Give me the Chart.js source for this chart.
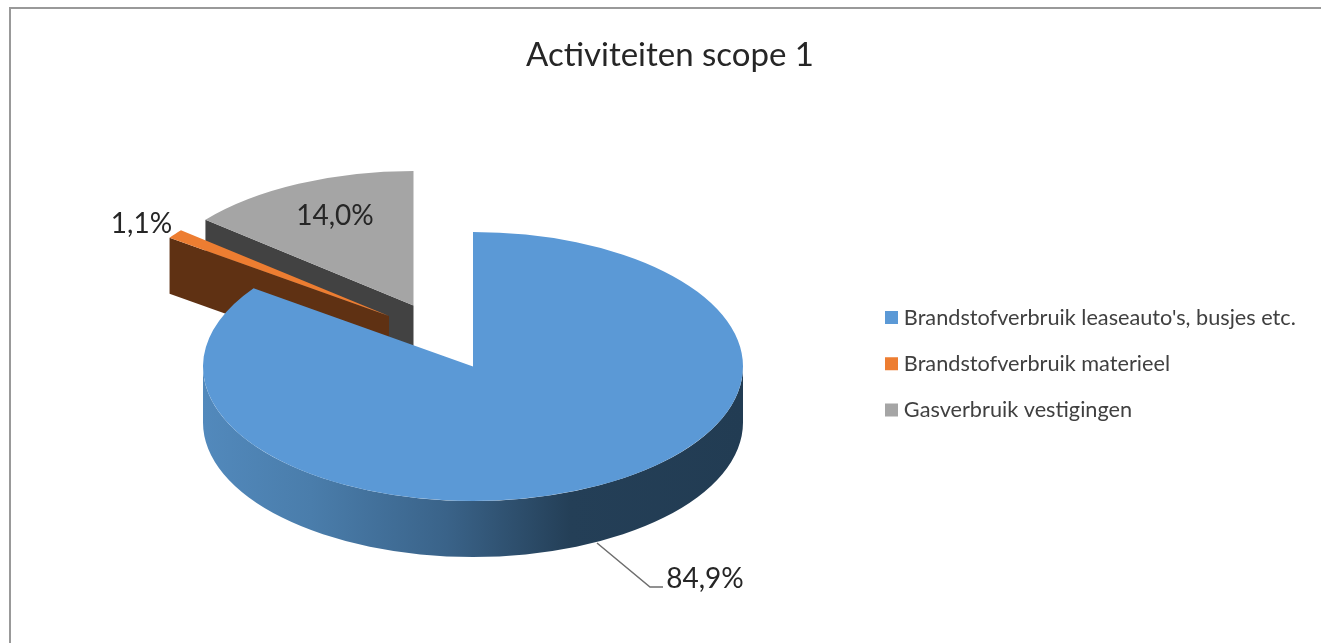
<!DOCTYPE html>
<html>
<head>
<meta charset="utf-8">
<style>
  body { margin: 0; background: #fff; overflow: hidden; }
  #frame { position: absolute; left: 9px; top: 7px; width: 1400px; height: 700px; border-left: 2px solid #999; border-top: 2px solid #999; }
  #myChart { position: absolute; left: 0; top: 0; }
</style>
</head>
<body>
<div id="frame"></div>
<canvas id="myChart" width="1340" height="643"></canvas>
<script src="https://cdn.jsdelivr.net/npm/chart.js@4/dist/chart.umd.min.js"></script>
<script>
const categories = ["Brandstofverbruik leaseauto's, busjes etc.", 'Brandstofverbruik materieel', 'Gasverbruik vestigingen'];
const shares = [84.9, 1.1, 14.0];

const topColors = ['#5B99D6', '#ED7D31', '#A5A5A5'];
const wallColors = [null, '#5F3113', '#424242'];
// screen position of each slice's apex (exploded 3D pie)
const apexX = [473, 389, 413.5];
const apexY = [366.5, 316, 305.5];
const labelX = [705, 141.5, 335];
const labelY = [579, 224, 216];
const squash = 0.498;
const depth = 56;

function drawSlice(chart, i) {
  const ctx = chart.ctx;
  const arc = chart.getDatasetMeta(0).data[i];
  const r = arc.outerRadius;
  const cx = apexX[i], cy = apexY[i];

  ctx.save();
  if (i === 0) {
    // curved outer wall of the big slice, front half only
    const grad = ctx.createLinearGradient(cx - r, 0, cx + r, 0);
    grad.addColorStop(0, '#5289BC');
    grad.addColorStop(0.2, '#4A7DAB');
    grad.addColorStop(0.45, '#3A6389');
    grad.addColorStop(0.68, '#243F57');
    grad.addColorStop(1, '#223C53');
    ctx.fillStyle = grad;
    ctx.beginPath();
    ctx.ellipse(cx, cy, r, r * squash, 0, 0, Math.PI);
    ctx.ellipse(cx, cy + depth, r, r * squash, 0, Math.PI, 0, true);
    ctx.closePath();
    ctx.fill();
  } else {
    // cut face along the start edge of the slice
    const px = cx + r * Math.cos(arc.startAngle);
    const py = cy + r * squash * Math.sin(arc.startAngle);
    ctx.fillStyle = wallColors[i];
    ctx.beginPath();
    ctx.moveTo(cx, cy);
    ctx.lineTo(px, py);
    ctx.lineTo(px, py + depth);
    ctx.lineTo(cx, cy + depth);
    ctx.closePath();
    ctx.fill();
  }
  ctx.restore();

  // top face: the library's own arc, flattened and moved
  ctx.save();
  ctx.translate(cx, cy);
  ctx.scale(1, squash);
  ctx.translate(-arc.x, -arc.y);
  arc.draw(ctx);
  ctx.restore();
}

const pie3d = {
  id: 'pie3d',
  afterLayout(chart) {
    // title spans the whole canvas, legend sits right of the pie
    const t = chart.titleBlock;
    t.left = 0;
    t.right = chart.width;
    const lg = chart.legend;
    const w = lg.width, h = lg.height;
    const pad = lg.options.labels.padding;
    lg.left = 890 - pad;
    lg.right = lg.left + w;
    lg.top = 306.75 - pad;
    lg.bottom = lg.top + h;
  },
  beforeDatasetDraw(chart) {
    drawSlice(chart, 2);
    drawSlice(chart, 1);
    drawSlice(chart, 0);
    return false;
  },
  afterDatasetsDraw(chart) {
    const ctx = chart.ctx;
    ctx.save();
    ctx.strokeStyle = '#6E6E6E';
    ctx.lineWidth = 1.5;
    ctx.beginPath();
    ctx.moveTo(597, 543);
    ctx.lineTo(650, 587);
    ctx.lineTo(663, 587);
    ctx.stroke();
    ctx.fillStyle = '#262626';
    ctx.font = '28px Lato';
    ctx.textAlign = 'center';
    ctx.textBaseline = 'middle';
    shares.forEach((v, i) => {
      ctx.fillText(v.toFixed(1).replace('.', ',') + '%', labelX[i], labelY[i]);
    });
    ctx.restore();
  }
};

let ctx = document.getElementById('myChart').getContext('2d');
let myChart = new Chart(ctx, {
  type: 'pie',
  data: {
    labels: categories,
    datasets: [{
      data: shares,
      backgroundColor: topColors,
      borderWidth: 0
    }]
  },
  options: {
    responsive: false,
    animation: false,
    events: [],
    layout: { padding: { left: 203, right: 597 } },
    plugins: {
      title: {
        display: true,
        text: 'Activiteiten scope 1',
        color: '#262626',
        font: { family: 'Lato', size: 33, weight: 'normal' },
        padding: { top: 36, bottom: 0 }
      },
      legend: {
        position: 'chartArea',
        align: 'start',
        labels: {
          color: '#404040',
          font: { family: 'Lato', size: 21.7 },
          usePointStyle: true,
          pointStyle: 'rect',
          boxWidth: 3,
          boxHeight: 13,
          padding: 24.5
        }
      },
      tooltip: { enabled: false }
    }
  },
  plugins: [pie3d]
});
</script>
</body>
</html>
